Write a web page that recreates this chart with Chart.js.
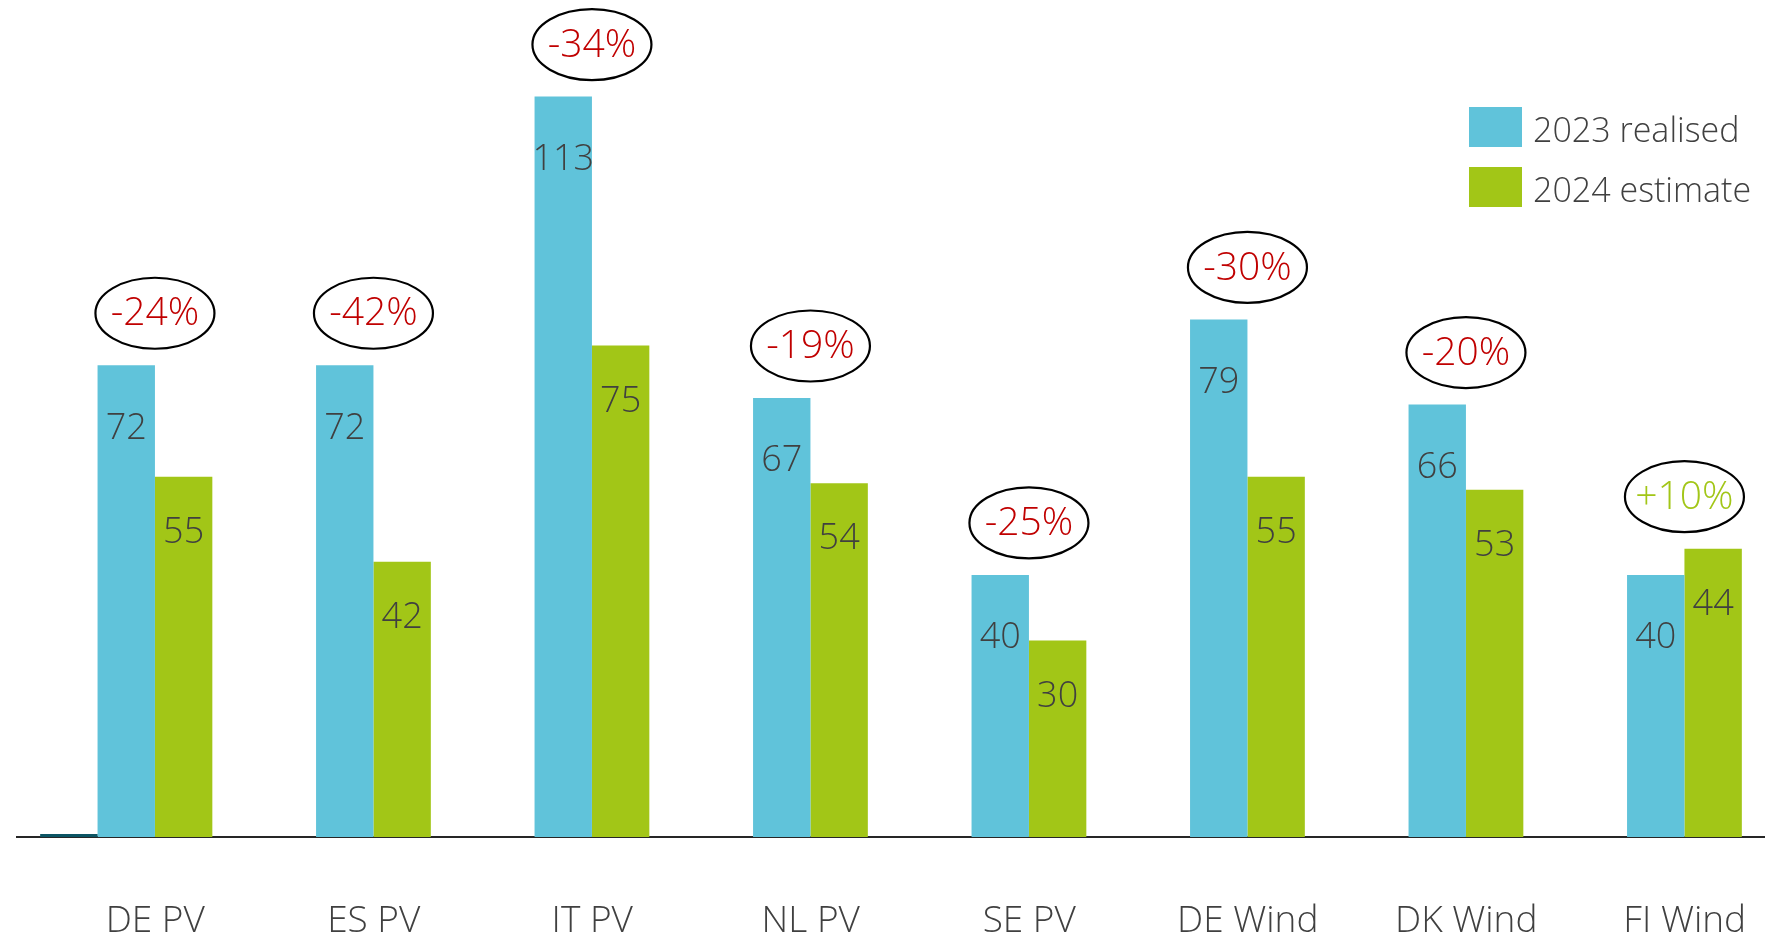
<!DOCTYPE html>
<html>
<head>
<meta charset="utf-8">
<script src="https://cdn.jsdelivr.net/npm/chart.js@4.4.1/dist/chart.umd.min.js"></script>
<style>
    body { margin: 0; background: #ffffff; }
    #contenedor { width: 1780px; height: 935px; position: relative; }
</style>
</head>
<body>
<div id="contenedor"><canvas id="myBarChart"></canvas></div>
<script>
// Datos del gráfico
const categorias = ['DE PV', 'ES PV', 'IT PV', 'NL PV', 'SE PV', 'DE Wind', 'DK Wind', 'FI Wind'];
const realizado2023 = [72, 72, 113, 67, 40, 79, 66, 40];
const estimado2024 = [55, 42, 75, 54, 30, 55, 53, 44];
const serieOscura = [0.45, null, null, null, null, null, null, null];
const etiquetasSeries = ['2023 realised', '2024 estimate'];

// Colores
const azul = '#60C3DA';
const verde = '#A2C617';
const rojo = '#C00000';
const gris = '#404040';
const fuente = "'Open Sans', 'Segoe UI', sans-serif";

// Plugin para etiquetas, elipses y leyenda
const anotaciones = {
    id: 'anotaciones',
    afterDatasetsDraw(chart) {
        const ctx = chart.ctx;
        const barrasAzul = chart.getDatasetMeta(1).data;
        const barrasVerde = chart.getDatasetMeta(2).data;

        ctx.save();
        ctx.textAlign = 'center';
        ctx.textBaseline = 'middle';

        // Valores dentro de las barras
        ctx.font = '300 36px ' + fuente;
        ctx.fillStyle = gris;
        [barrasAzul, barrasVerde].forEach((barras, s) => {
            const valores = s === 0 ? realizado2023 : estimado2024;
            const desplazamiento = s === 0 ? 63 : 56;
            barras.forEach((bar, i) => {
                ctx.fillText(String(valores[i]), bar.x, bar.y + desplazamiento);
            });
        });

        // Elipses con la variación porcentual
        categorias.forEach((cat, i) => {
            const a = barrasAzul[i];
            const v = barrasVerde[i];
            const cx = (a.x + v.x) / 2;
            const cy = Math.min(a.y, v.y) - 52;
            ctx.beginPath();
            ctx.ellipse(cx, cy, 59.5, 35.5, 0, 0, Math.PI * 2);
            ctx.lineWidth = 2.2;
            ctx.strokeStyle = '#000000';
            ctx.stroke();

            const cambio = Math.round((estimado2024[i] - realizado2023[i]) / realizado2023[i] * 100);
            const texto = (cambio > 0 ? '+' : '-') + Math.abs(cambio) + '%';
            ctx.font = '300 39px ' + fuente;
            ctx.fillStyle = cambio > 0 ? verde : rojo;
            ctx.fillText(texto, cx, cy + 1);
        });

        // Leyenda
        const colores = [azul, verde];
        const x0 = chart.width - 311;
        ctx.textAlign = 'left';
        ctx.font = '300 34px ' + fuente;
        etiquetasSeries.forEach((etiqueta, k) => {
            const y0 = 107 + k * 60;
            ctx.fillStyle = colores[k];
            ctx.fillRect(x0, y0, 53, 40);
            ctx.fillStyle = gris;
            ctx.fillText(etiqueta, x0 + 64, y0 + 25);
        });
        ctx.restore();
    }
};

const ctxBarras = document.getElementById('myBarChart').getContext('2d');
const myBarChart = new Chart(ctxBarras, {
    type: 'bar',
    data: {
        labels: categorias,
        datasets: [
            { label: 'otros', data: serieOscura, backgroundColor: '#0C5564' },
            { label: etiquetasSeries[0], data: realizado2023, backgroundColor: azul },
            { label: etiquetasSeries[1], data: estimado2024, backgroundColor: verde }
        ]
    },
    options: {
        responsive: true,
        maintainAspectRatio: false,
        animation: false,
        categoryPercentage: 0.788,
        barPercentage: 1.0,
        layout: { padding: { left: 17, right: 14, top: 18, bottom: 0 } },
        scales: {
            y: {
                display: false,
                min: 0,
                max: 125
            },
            x: {
                grid: { display: false, drawTicks: false },
                border: { display: true, color: '#262626', width: 2 },
                ticks: {
                    color: gris,
                    font: { family: fuente, size: 37, weight: 300 },
                    padding: 62,
                    labelOffset: 29,
                    maxRotation: 0,
                    autoSkip: false
                },
                afterFit: (scale) => { scale.height = 98; }
            }
        },
        plugins: {
            legend: { display: false },
            tooltip: { enabled: false }
        }
    },
    plugins: [anotaciones]
});
</script>
</body>
</html>
